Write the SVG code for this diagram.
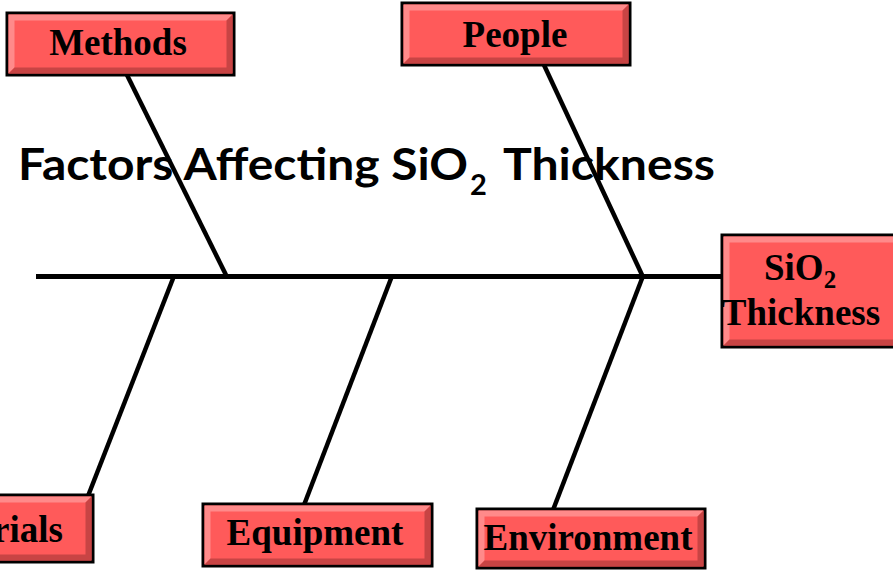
<svg xmlns="http://www.w3.org/2000/svg" width="893" height="570" viewBox="0 0 893 570">
<style>
.face{fill:#FF5A5A;stroke:#000;stroke-width:3}
.hi{fill:#FF8A8A}
.sh{fill:#C84444}
.lbl{font-family:"Liberation Serif","Times New Roman",serif;font-weight:bold;font-size:37px;fill:#000}
.title{font-family:Lato,"Open Sans",sans-serif;font-weight:bold;font-size:43px;fill:#000}
.ln{stroke:#000;stroke-width:4.5;fill:none;stroke-linecap:butt}
</style>
<rect width="893" height="570" fill="#fff"/>
<g id="title">
<text class="title" x="18" y="180" textLength="450" lengthAdjust="spacingAndGlyphs">Factors Affecting SiO</text>
<text class="title" x="470" y="195" style="font-size:29px">2</text>
<text class="title" x="503" y="180" textLength="212" lengthAdjust="spacingAndGlyphs">Thickness</text>
</g>
<g id="connectors">
<line class="ln" x1="36" y1="276.5" x2="722" y2="276.5" style="stroke-width:5"/>
<line class="ln" x1="127" y1="75" x2="227" y2="277"/>
<line class="ln" x1="544" y1="65" x2="643" y2="277"/>
<line class="ln" x1="174" y1="276" x2="88" y2="496"/>
<line class="ln" x1="392" y1="276" x2="304" y2="505"/>
<line class="ln" x1="643" y1="276" x2="553" y2="510"/>
</g>
<g id="methods">
<rect class="face" x="7" y="13" width="227" height="62"/>
<polygon class="hi" points="8.5,14.5 232.5,14.5 226.5,20.5 14.5,20.5 14.5,67.5 8.5,73.5"/>
<polygon class="sh" points="232.5,14.5 232.5,73.5 8.5,73.5 14.5,67.5 226.5,67.5 226.5,20.5"/>
<text class="lbl" x="118" y="55" text-anchor="middle">Methods</text>
</g>
<g id="people">
<rect class="face" x="402" y="3" width="228" height="62"/>
<polygon class="hi" points="403.5,4.5 628.5,4.5 622.5,10.5 409.5,10.5 409.5,57.5 403.5,63.5"/>
<polygon class="sh" points="628.5,4.5 628.5,63.5 403.5,63.5 409.5,57.5 622.5,57.5 622.5,10.5"/>
<text class="lbl" x="515" y="47" text-anchor="middle">People</text>
</g>
<g id="sio2">
<rect class="face" x="722" y="235" width="180" height="112"/>
<polygon class="hi" points="723.5,236.5 900,236.5 900,242.5 729.5,242.5 729.5,339.5 723.5,345.5"/>
<polygon class="sh" points="723.5,345.5 729.5,339.5 900,339.5 900,345.5"/>
<text class="lbl" x="764" y="280">SiO<tspan dy="8" style="font-size:25px">2</tspan></text>
<text class="lbl" x="801" y="325" text-anchor="middle">Thickness</text>
</g>
<g id="materials">
<rect class="face" x="-120" y="495" width="213" height="67"/>
<polygon class="hi" points="-120,496.5 91.5,496.5 85.5,502.5 -120,502.5"/>
<polygon class="sh" points="91.5,496.5 91.5,560.5 -120,560.5 -120,554.5 85.5,554.5 85.5,502.5"/>
<text class="lbl" x="63" y="542" text-anchor="end">Materials</text>
</g>
<g id="equipment">
<rect class="face" x="203" y="504" width="229" height="62"/>
<polygon class="hi" points="204.5,505.5 430.5,505.5 424.5,511.5 210.5,511.5 210.5,558.5 204.5,564.5"/>
<polygon class="sh" points="430.5,505.5 430.5,564.5 204.5,564.5 210.5,558.5 424.5,558.5 424.5,511.5"/>
<text class="lbl" x="315" y="545" text-anchor="middle">Equipment</text>
</g>
<g id="environment">
<rect class="face" x="477" y="509" width="228" height="59"/>
<polygon class="hi" points="478.5,510.5 703.5,510.5 697.5,516.5 484.5,516.5 484.5,560.5 478.5,566.5"/>
<polygon class="sh" points="703.5,510.5 703.5,566.5 478.5,566.5 484.5,560.5 697.5,560.5 697.5,516.5"/>
<text class="lbl" x="588" y="550" text-anchor="middle">Environment</text>
</g>
</svg>
